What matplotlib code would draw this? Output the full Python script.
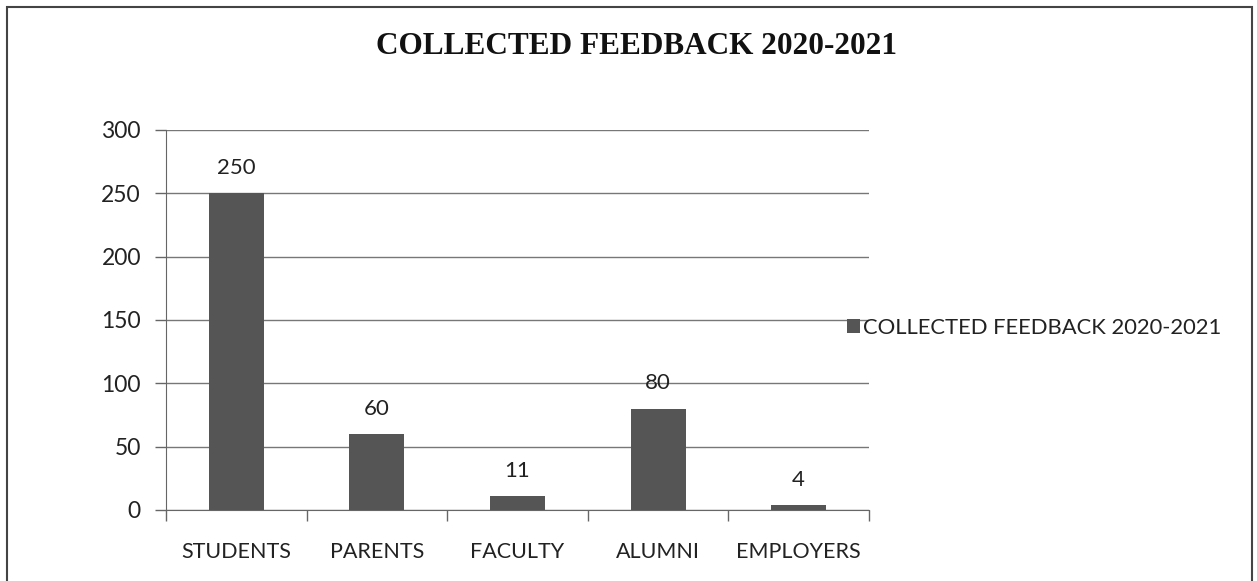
import matplotlib.pyplot as plt
from matplotlib.patches import Rectangle
import numpy as np

categories = ['STUDENTS', 'PARENTS', 'FACULTY', 'ALUMNI', 'EMPLOYERS']
feedback = [250, 60, 11, 80, 4]
series_name = 'COLLECTED FEEDBACK 2020-2021'
title = 'COLLECTED FEEDBACK 2020-2021'
yticks = [0, 50, 100, 150, 200, 250, 300]

plt.rcParams['font.family'] = ['Lato', 'DejaVu Sans']

fig = plt.figure(figsize=(12.57, 5.81), dpi=100)
fig.patch.set_facecolor('white')

# outer chart border
fig.add_artist(Rectangle((7 / 1257, -0.05), 1245 / 1257, 1 - 7 / 581 + 0.05,
                         transform=fig.transFigure, fill=False,
                         edgecolor='#444444', linewidth=1.5))

ax = fig.add_axes([166 / 1257, 1 - 510 / 581, (869 - 166) / 1257, 380 / 581])
x = np.arange(len(categories))
bars = ax.bar(x, feedback, width=0.39, color='#555555', label=series_name, zorder=3)

for b, v in zip(bars, feedback):
    ax.text(b.get_x() + b.get_width() / 2, v + 12, str(v), ha='center', va='bottom',
            fontsize=16, color='#222222')

ax.set_ylim(0, 300)
ax.set_xlim(-0.5, len(categories) - 0.5)
ax.set_yticks(yticks)
ax.set_yticklabels([str(t) for t in yticks], fontsize=16.5, color='#222222')
ax.set_xticks(x)
ax.set_xticklabels(categories, fontsize=15.5, color='#222222')
ax.tick_params(axis='x', length=0, pad=23)
ax.tick_params(axis='y', length=8, width=1, color='#666666', pad=10)

# category boundary ticks on x axis
ax.set_xticks(np.arange(-0.5, len(categories)), minor=True)
ax.tick_params(axis='x', which='minor', length=8, width=1, color='#666666')

ax.grid(axis='y', color='#777777', linewidth=1, zorder=0)
for s in ['top', 'right']:
    ax.spines[s].set_visible(False)
ax.spines['left'].set_color('#666666')
ax.spines['bottom'].set_color('#666666')

fig.text(0.506, 1 - 47 / 581, title, ha='center', va='center',
         fontsize=22.5, fontweight='bold', family='Liberation Serif', color='#111111')

ax.legend(loc='center left', bbox_to_anchor=(0.968, 0.48), frameon=False,
          fontsize=15.8, handlelength=0.6, handleheight=0.6, handletextpad=0.15,
          borderaxespad=0, borderpad=0, labelcolor='#222222')

fig.savefig('out.png', dpi=100)
